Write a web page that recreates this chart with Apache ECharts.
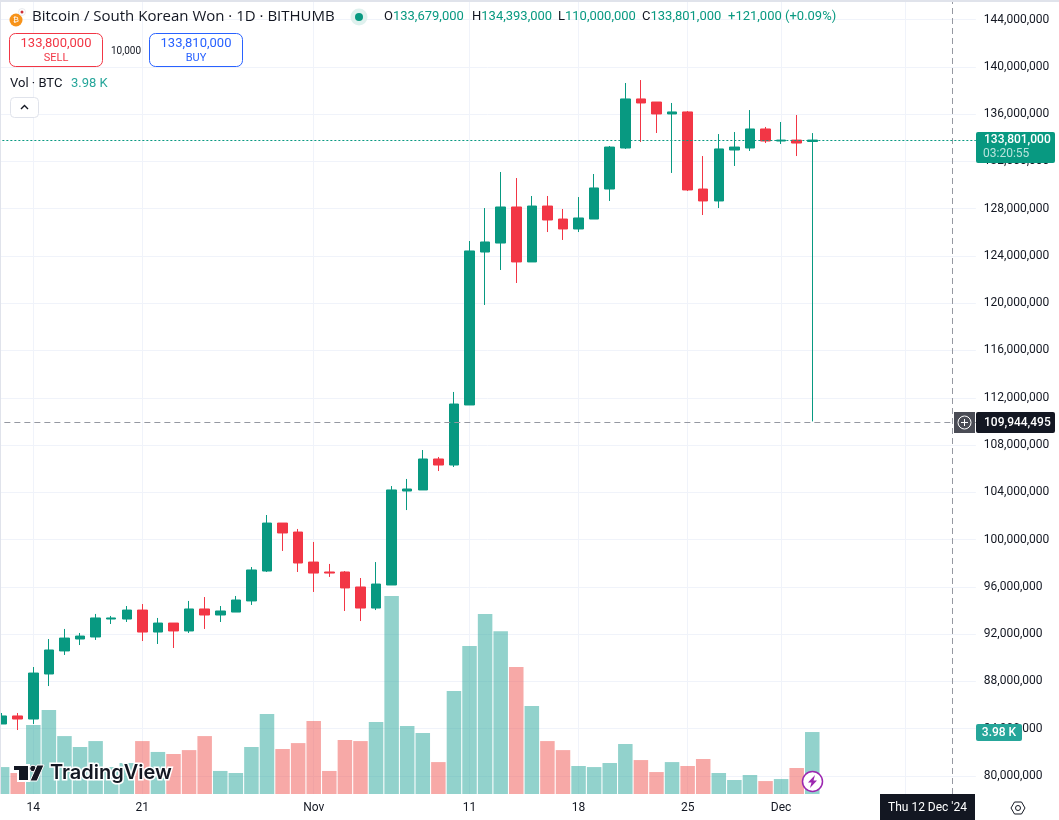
<!DOCTYPE html>
<html>
<head>
<meta charset="utf-8">
<style>
  html, body { margin: 0; padding: 0; background: #fff; }
  #main { width: 1059px; height: 820px; }
</style>
<script src="https://cdn.jsdelivr.net/npm/echarts@6/dist/echarts.min.js"></script>
</head>
<body>
<div id="main"></div>
<script>
  // daily bars, Oct 12 to Dec 3, then empty days up to Dec 13
  const days = [
    'Oct 12','Oct 13','Oct 14','Oct 15','Oct 16','Oct 17','Oct 18','Oct 19','Oct 20','Oct 21',
    'Oct 22','Oct 23','Oct 24','Oct 25','Oct 26','Oct 27','Oct 28','Oct 29','Oct 30','Oct 31',
    'Nov 1','Nov 2','Nov 3','Nov 4','Nov 5','Nov 6','Nov 7','Nov 8','Nov 9','Nov 10',
    'Nov 11','Nov 12','Nov 13','Nov 14','Nov 15','Nov 16','Nov 17','Nov 18','Nov 19','Nov 20',
    'Nov 21','Nov 22','Nov 23','Nov 24','Nov 25','Nov 26','Nov 27','Nov 28','Nov 29','Nov 30',
    'Dec 1','Dec 2','Dec 3','Dec 4','Dec 5','Dec 6','Dec 7','Dec 8','Dec 9','Dec 10',
    'Dec 11','Dec 12','Dec 13'
  ];
  // prices in millions of KRW
  const opens = [
    84.40,85.08,84.82,88.63,90.58,91.59,91.76,93.28,93.28,94.04,
    92.18,92.94,92.27,94.13,93.62,93.87,94.81,97.34,101.40,100.64,
    98.10,97.26,97.26,95.99,94.21,96.16,104.11,104.20,106.82,106.31,
    111.39,124.33,125.09,128.14,123.49,128.22,127.12,126.28,127.12,129.66,
    133.13,137.28,137.02,136.01,136.18,129.66,128.65,132.96,133.13,134.74,
    133.72,133.80,133.679
  ];
  const closes = [
    85.08,84.82,88.71,90.66,91.67,91.84,93.37,93.37,94.04,92.18,
    92.94,92.27,94.13,93.62,93.96,94.89,97.43,101.40,100.56,98.02,
    97.17,97.17,95.91,94.21,96.24,104.20,104.28,106.82,106.31,111.47,
    124.42,125.18,128.14,123.49,128.22,127.04,126.28,127.21,129.75,133.21,
    137.28,136.94,136.01,136.18,129.58,128.65,133.05,133.21,134.74,133.72,
    133.80,133.55,133.801
  ];
  const lows = [
    84.40,83.89,84.40,87.61,90.24,91.08,91.51,92.86,93.03,91.42,
    91.17,90.83,92.10,92.44,93.03,93.87,94.47,97.26,99.04,97.26,
    95.57,96.84,93.96,93.11,94.04,96.16,102.50,104.20,105.80,106.14,
    111.39,119.85,122.81,121.71,123.49,126.02,125.35,126.02,127.12,128.65,
    133.05,133.64,134.40,131.02,129.49,127.46,128.05,131.61,132.88,133.55,
    133.47,132.45,110.00
  ];
  const highs = [
    85.33,85.33,89.22,91.59,92.44,92.10,93.71,93.54,94.38,94.55,
    93.37,92.94,94.81,95.14,94.38,95.23,97.68,102.08,101.40,100.90,
    99.80,97.94,97.34,96.75,98.10,104.53,105.13,107.58,106.99,112.49,
    125.26,128.05,131.10,130.59,129.07,129.07,127.97,128.98,130.93,133.30,
    138.63,138.88,137.02,136.94,136.26,132.45,134.31,134.48,136.34,134.91,
    135.33,135.92,134.393
  ];
  // volume in thousands of BTC, and 1 = teal bar, 0 = pink bar
  const volumes = [
    1.73,1.35,4.43,5.39,3.72,3.02,3.40,1.73,1.99,3.40,
    2.70,2.57,2.82,3.72,1.48,1.35,3.02,5.14,2.89,3.27,
    4.69,1.48,3.47,3.40,4.62,12.71,4.37,3.92,2.05,6.61,
    9.50,11.56,10.46,8.15,5.65,3.40,2.82,1.80,1.73,1.99,
    3.21,2.18,1.41,2.05,1.80,2.25,1.35,0.90,1.22,0.83,
    0.96,1.67,3.98
  ];
  const volumeUp = [
    1,0,1,1,1,1,1,1,1,0,
    1,0,0,0,1,1,1,1,0,0,
    0,0,0,0,1,1,1,1,0,1,
    1,1,1,0,1,0,0,1,1,1,
    1,0,0,1,0,0,1,1,1,0,
    1,0,1
  ];
  const timeTicks = { 'Oct 14':'14', 'Oct 21':'21', 'Nov 1':'Nov', 'Nov 11':'11', 'Nov 18':'18', 'Nov 25':'25', 'Dec 1':'Dec', 'Dec 9':'9' };
  const lastPrice = 133.801;
  const crossPrice = 109.944495;
  const crossDay = 'Dec 12';

  const UP = '#089981', DOWN = '#f23645', INK = '#131722', GRID = '#f0f3fa';
  const FONT = 'Roboto, sans-serif';
  const isTick = (i, name) => timeTicks[name] !== undefined;

  function label(x, y, text, fill, size, extra) {
    return { type: 'text', z: 100, style: Object.assign({
      x: x, y: y, text: text, fill: fill,
      font: (size || 12) + 'px ' + FONT, textVerticalAlign: 'middle'
    }, extra || {}) };
  }
  function box(x, y, w, h, fill, stroke, r) {
    return { type: 'rect', z: 99, shape: { x: x, y: y, width: w, height: h, r: r || 0 },
      style: { fill: fill, stroke: stroke || null, lineWidth: stroke ? 1 : 0 } };
  }
  function ohlc(x, letter, value) {
    return { type: 'text', z: 100, style: {
      x: x, y: 17, text: '{k|' + letter + '}{v|' + value + '}', textVerticalAlign: 'middle',
      rich: {
        k: { fill: INK, font: '13px ' + FONT },
        v: { fill: UP, font: '13px ' + FONT }
      }
    } };
  }

  const overlays = [
    // pane edges
    box(0, 0, 1059, 2, '#e0e3eb'),
    box(0, 0, 1, 794, '#e0e3eb'),

    // legend header
    { type: 'circle', z: 100, shape: { cx: 16, cy: 20, r: 6.5 }, style: { fill: '#f7931a' } },
    label(16, 20, '₿', '#fff', 8, { textAlign: 'center' }),
    { type: 'circle', z: 101, shape: { cx: 22, cy: 12, r: 3.5 }, style: { fill: '#fff', stroke: '#d1d4dc', lineWidth: 0.5 } },
    { type: 'circle', z: 102, shape: { cx: 22, cy: 12, r: 1.5 }, style: { fill: '#cd2e3a' } },
    label(32, 17, 'Bitcoin / South Korean Won · 1D · BITHUMB', INK, 15, { font: '15px "Open Sans", sans-serif' }),
    { type: 'circle', z: 100, shape: { cx: 359, cy: 17, r: 8.5 }, style: { fill: '#dff1ee' } },
    { type: 'circle', z: 101, shape: { cx: 359, cy: 17, r: 4 }, style: { fill: UP } },
    ohlc(384, 'O', '133,679,000'),
    ohlc(472, 'H', '134,393,000'),
    ohlc(558, 'L', '110,000,000'),
    ohlc(642, 'C', '133,801,000'),
    label(728, 17, '+121,000 (+0.09%)', UP, 13),

    // sell / buy buttons
    box(9.5, 33.5, 93, 33, '#fff', DOWN, 6),
    label(56, 44, '133,800,000', DOWN, 13, { textAlign: 'center' }),
    label(56, 58, 'SELL', DOWN, 11, { textAlign: 'center' }),
    label(126, 51, '10,000', INK, 10, { textAlign: 'center' }),
    box(149.5, 33.5, 93, 33, '#fff', '#2962ff', 6),
    label(196, 44, '133,810,000', '#2962ff', 13, { textAlign: 'center' }),
    label(196, 58, 'BUY', '#2962ff', 11, { textAlign: 'center' }),

    // volume legend
    label(10, 84, 'Vol · BTC', INK, 13),
    label(71, 84, '3.98 K', '#26a69a', 13),
    box(10.5, 97.5, 28, 20, '#fff', '#e0e3eb', 4),
    { type: 'polyline', z: 100, shape: { points: [[21, 109], [24.5, 105.5], [28, 109]] },
      style: { stroke: INK, lineWidth: 1.4, fill: null } },

    // last price tag
    box(976, 132, 79, 31, UP, null, 2),
    label(984, 140, '133,801,000', '#fff', 12, { font: '500 12px ' + FONT }),
    label(983, 154, '03:20:55', '#b8e3dc', 12),

    // crosshair price tag
    box(954, 412, 21, 21, '#4a4c55'),
    { type: 'circle', z: 100, shape: { cx: 964.5, cy: 422.5, r: 6.5 }, style: { fill: null, stroke: '#fff', lineWidth: 1 } },
    { type: 'polyline', z: 100, shape: { points: [[961, 422.5], [968, 422.5]] }, style: { stroke: '#fff', lineWidth: 1 } },
    { type: 'polyline', z: 100, shape: { points: [[964.5, 419], [964.5, 426]] }, style: { stroke: '#fff', lineWidth: 1 } },
    box(976, 412, 79, 21, INK, null, 2),
    label(984, 422.5, '109,944,495', '#fff', 12, { font: '500 12px ' + FONT }),

    // volume tag
    box(976, 724, 46, 17, '#26a69a', null, 2),
    label(999, 733, '3.98 K', '#fff', 12, { textAlign: 'center', font: '500 12px ' + FONT }),

    // crosshair date tag
    box(880, 794, 95, 26, INK),
    label(927.5, 808, "Thu 12 Dec '24", '#fff', 12, { textAlign: 'center' }),

    // settings icon
    { type: 'polygon', z: 100, shape: { points: [[1011, 808], [1014.5, 802], [1021.5, 802], [1025, 808], [1021.5, 814], [1014.5, 814]] },
      style: { fill: null, stroke: INK, lineWidth: 1 } },
    { type: 'circle', z: 100, shape: { cx: 1018, cy: 808, r: 2.5 }, style: { fill: null, stroke: INK, lineWidth: 1 } },

    // dividend style marker on the last bar
    { type: 'circle', z: 100, shape: { cx: 812.5, cy: 781.5, r: 10 }, style: { fill: '#fff', stroke: '#9c27b0', lineWidth: 1.5 } },
    { type: 'polygon', z: 101, shape: { points: [[815, 775], [808, 782.5], [811.5, 782.5], [810, 788], [817, 780.5], [813.5, 780.5]] },
      style: { fill: '#9c27b0' } },

    // TradingView mark
    { type: 'polygon', z: 100, shape: { points: [[13, 765], [29, 765], [29, 781], [18, 781], [18, 771], [13, 771]] },
      style: { fill: INK, stroke: '#fff', lineWidth: 2 } },
    { type: 'circle', z: 100, shape: { cx: 33, cy: 768.5, r: 3.3 }, style: { fill: INK, stroke: '#fff', lineWidth: 1 } },
    { type: 'polygon', z: 100, shape: { points: [[37, 765], [44, 765], [37, 781], [30, 781]] },
      style: { fill: INK, stroke: '#fff', lineWidth: 1 } },
    label(50, 773, 'TradingView', INK, 20, { font: '600 20px Inter, sans-serif', stroke: '#fff', lineWidth: 3 })
  ];

  const myChart = echarts.init(document.getElementById('main'), null, { renderer: 'canvas' });
  myChart.setOption({
    animation: false,
    backgroundColor: '#fff',
    textStyle: { fontFamily: FONT },
    grid: [
      { left: -5.65, width: 981.5, top: -27.76, height: 851.04, outerBoundsMode: 'none' },
      { left: -5.65, width: 981.5, top: 0, height: 794, outerBoundsMode: 'none' }
    ],
    xAxis: [
      { type: 'category', gridIndex: 0, data: days, show: false },
      {
        type: 'category', gridIndex: 1, data: days,
        axisLine: { show: false },
        axisTick: { show: false },
        axisLabel: {
          color: INK, fontSize: 12, margin: 8, interval: isTick,
          formatter: (name) => timeTicks[name] || ''
        },
        splitLine: { show: true, interval: isTick, alignWithLabel: true, lineStyle: { color: GRID, width: 1 } }
      }
    ],
    yAxis: [
      {
        type: 'value', gridIndex: 0, position: 'right', scale: true,
        min: 76, max: 148, interval: 4,
        axisLine: { show: false },
        axisTick: { show: false },
        axisLabel: {
          color: INK, fontSize: 12, margin: 8, showMinLabel: false, showMaxLabel: false,
          formatter: (v) => (v * 1000000).toLocaleString('en-US')
        },
        splitLine: { show: true, lineStyle: { color: GRID, width: 1 } }
      },
      { type: 'value', gridIndex: 1, min: 0, max: 51, show: false, splitLine: { show: false } }
    ],
    series: [
      {
        type: 'bar', name: 'Vol', xAxisIndex: 1, yAxisIndex: 1, barWidth: 14.5,
        data: volumes.map((v, i) => ({
          value: v,
          itemStyle: { color: volumeUp[i] ? 'rgba(38,166,154,0.5)' : 'rgba(239,83,80,0.5)' }
        })),
        markLine: {
          silent: true, symbol: 'none', label: { show: false },
          lineStyle: { color: '#9598a1', type: [6, 4], width: 1 },
          data: [{ xAxis: crossDay }]
        }
      },
      {
        type: 'candlestick', name: 'BTCKRW', xAxisIndex: 0, yAxisIndex: 0, barWidth: 10,
        data: opens.map((o, i) => [o, closes[i], lows[i], highs[i]]),
        itemStyle: { color: UP, color0: DOWN, borderColor: UP, borderColor0: DOWN, borderWidth: 1 },
        markLine: {
          silent: true, symbol: 'none', label: { show: false },
          data: [
            { yAxis: lastPrice, lineStyle: { color: UP, type: [2, 2], width: 1, opacity: 1 } },
            { yAxis: crossPrice, lineStyle: { color: '#9598a1', type: [6, 4], width: 1, opacity: 1 } }
          ]
        }
      }
    ],
    graphic: { elements: overlays }
  });
</script>
</body>
</html>
